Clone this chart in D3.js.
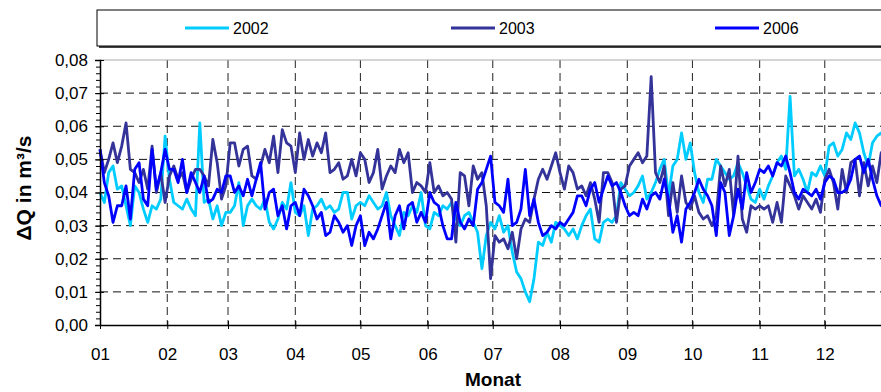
<!DOCTYPE html>
<html>
<head>
<meta charset="utf-8">
<script src="https://cdn.jsdelivr.net/npm/d3@7"></script>
<style>
  body { margin: 0; background: #fff; }
  svg { display: block; font-family: "Liberation Sans", Arial, sans-serif; }
</style>
</head>
<body>
<svg id="chart" width="881" height="392"></svg>
<script>
// values, one every 2 days (day of year 0, 2, 4 ... 364)
var step = 2;
var monthStart = [0, 31, 59, 90, 120, 151, 181, 212, 243, 273, 304, 334];
var monthLabels = ['01', '02', '03', '04', '05', '06', '07', '08', '09', '10', '11', '12'];
var yTicks = [0, 0.01, 0.02, 0.03, 0.04, 0.05, 0.06, 0.07, 0.08];
var seriesNames = ['2002', '2003', '2006'];
var seriesColors = ['#00ccff', '#333399', '#0000ff'];

var q2002 = [
  0.040,0.037,0.046,0.048,0.041,0.042,0.036,0.030,0.042,0.040,0.035,0.031,0.036,0.035,0.038,0.057,
  0.044,0.037,0.036,0.035,0.038,0.035,0.033,0.061,0.037,0.038,0.032,0.036,0.030,0.034,
  0.034,0.036,0.043,0.030,0.036,0.038,0.036,0.035,0.038,0.031,0.029,0.032,0.037,0.035,0.043,
  0.034,0.033,0.036,0.027,0.035,0.036,0.038,0.035,0.036,0.034,0.035,0.040,0.040,0.032,0.036,
  0.037,0.036,0.039,0.037,0.035,0.036,0.040,0.033,0.030,0.027,0.034,0.033,0.036,0.034,0.040,
  0.030,0.029,0.034,0.033,0.036,0.035,0.037,0.032,0.030,0.033,0.034,0.031,0.028,0.017,0.027,0.031,
  0.029,0.033,0.028,0.030,0.022,0.016,0.014,0.010,0.007,0.014,0.025,0.024,0.028,0.025,0.031,
  0.030,0.029,0.027,0.029,0.026,0.030,0.033,0.035,0.026,0.025,0.031,0.032,0.031,0.033,0.043,0.041,
  0.039,0.040,0.042,0.045,0.038,0.040,0.043,0.047,0.050,0.039,0.048,0.050,0.058,0.050,0.055,
  0.046,0.040,0.037,0.044,0.044,0.050,0.048,0.046,0.044,0.045,0.049,0.046,0.042,0.038,0.037,
  0.041,0.038,0.042,0.045,0.049,0.051,0.047,0.069,0.045,0.047,0.044,0.040,0.046,0.045,0.048,
  0.045,0.054,0.055,0.051,0.053,0.058,0.056,0.061,0.058,0.052,0.048,0.055,0.057,0.058,0.055,0.056
];
var q2003 = [
  0.053,0.046,0.050,0.055,0.049,0.054,0.061,0.047,0.046,0.043,0.047,0.041,0.054,0.040,0.046,0.037,
  0.045,0.048,0.044,0.046,0.040,0.044,0.047,0.047,0.045,0.042,0.056,0.049,0.038,0.042,
  0.055,0.055,0.048,0.053,0.054,0.045,0.044,0.048,0.053,0.049,0.057,0.046,0.059,0.055,0.054,
  0.046,0.058,0.050,0.056,0.051,0.055,0.052,0.058,0.046,0.047,0.049,0.044,0.045,0.050,0.045,
  0.052,0.050,0.043,0.046,0.053,0.041,0.045,0.048,0.046,0.053,0.049,0.052,0.040,0.043,0.042,
  0.040,0.049,0.040,0.042,0.039,0.040,0.038,0.025,0.046,0.045,0.036,0.048,0.044,0.046,0.036,0.014,
  0.027,0.025,0.026,0.023,0.028,0.020,0.029,0.032,0.031,0.038,0.044,0.047,0.044,0.048,0.052,
  0.046,0.041,0.048,0.046,0.041,0.042,0.039,0.043,0.038,0.031,0.046,0.046,0.043,0.031,0.041,0.042,
  0.048,0.050,0.052,0.049,0.051,0.075,0.046,0.043,0.048,0.033,0.043,0.034,0.045,0.037,0.035,
  0.039,0.034,0.032,0.033,0.030,0.033,0.048,0.042,0.047,0.033,0.051,0.032,0.028,0.036,0.035,
  0.036,0.035,0.036,0.031,0.037,0.031,0.045,0.042,0.039,0.035,0.039,0.037,0.035,0.038,0.034,
  0.044,0.047,0.043,0.035,0.047,0.040,0.049,0.050,0.039,0.049,0.042,0.048,0.043,0.052,0.050,0.048
];
var q2006 = [
  0.053,0.043,0.039,0.031,0.036,0.036,0.042,0.032,0.047,0.049,0.038,0.036,0.053,0.041,0.046,0.053,
  0.047,0.047,0.043,0.050,0.040,0.046,0.043,0.040,0.045,0.037,0.038,0.041,0.040,0.045,
  0.045,0.040,0.042,0.039,0.044,0.039,0.044,0.049,0.035,0.040,0.041,0.033,0.036,0.029,0.036,
  0.037,0.033,0.041,0.039,0.036,0.032,0.034,0.027,0.028,0.033,0.031,0.028,0.030,0.024,0.030,
  0.033,0.024,0.028,0.026,0.029,0.033,0.037,0.026,0.033,0.036,0.029,0.036,0.037,0.031,0.034,
  0.031,0.040,0.037,0.036,0.030,0.026,0.026,0.037,0.031,0.029,0.032,0.030,0.041,0.043,0.047,0.051,
  0.037,0.036,0.034,0.044,0.030,0.031,0.035,0.047,0.033,0.038,0.031,0.027,0.028,0.030,0.029,
  0.031,0.030,0.032,0.034,0.039,0.039,0.036,0.041,0.043,0.037,0.041,0.045,0.042,0.043,0.040,0.036,
  0.033,0.034,0.033,0.038,0.035,0.039,0.040,0.038,0.044,0.038,0.028,0.033,0.025,0.035,0.037,
  0.040,0.044,0.041,0.039,0.036,0.027,0.043,0.040,0.027,0.033,0.041,0.035,0.046,0.040,0.043,
  0.047,0.046,0.048,0.045,0.049,0.048,0.051,0.046,0.040,0.038,0.041,0.040,0.039,0.041,0.038,
  0.043,0.045,0.044,0.040,0.040,0.041,0.044,0.050,0.051,0.046,0.050,0.044,0.039,0.036,0.035,0.037
];
var seriesValues = [q2002, q2003, q2006];

var svg = d3.select('#chart');
var margin = {top: 60, left: 100, bottom: 325};
var dayWidth = 2.17;

var x = d3.scaleLinear().domain([0, 365]).range([margin.left, margin.left + 365 * dayWidth]);
var y = d3.scaleLinear().domain([0, 0.08]).range([margin.bottom, margin.top]);

svg.append('rect').attr('width', 881).attr('height', 392).attr('fill', '#fff');

// grid
var grid = svg.append('g').classed('grid', true);
grid.selectAll('.hgrid')
  .data(yTicks.slice(1, -1))
  .enter().append('line')
    .attr('x1', x(0)).attr('x2', x(365))
    .attr('y1', function(d) { return y(d); })
    .attr('y2', function(d) { return y(d); })
    .attr('stroke', '#111').attr('stroke-dasharray', '8,5');
grid.selectAll('.vgrid')
  .data(monthStart.slice(1))
  .enter().append('line')
    .attr('x1', function(d) { return x(d); })
    .attr('x2', function(d) { return x(d); })
    .attr('y1', y(0.08)).attr('y2', y(0))
    .attr('stroke', '#222').attr('stroke-dasharray', '8,5');
svg.append('line')
  .attr('x1', x(0)).attr('x2', x(365))
  .attr('y1', y(0.08)).attr('y2', y(0.08))
  .attr('stroke', '#aaa');

// series
var line = d3.line()
  .x(function(d, i) { return x(i * step); })
  .y(function(d) { return y(d); });

svg.append('g').classed('data-series', true)
  .selectAll('path')
  .data(seriesValues)
  .enter().append('path')
    .attr('d', line)
    .attr('fill', 'none')
    .attr('stroke', function(d, i) { return seriesColors[i]; })
    .attr('stroke-width', 2.8)
    .attr('stroke-linejoin', 'round');

// axes
var fmt = function(d) { return d3.format('.2f')(d).replace('.', ','); };

svg.append('g')
  .attr('transform', 'translate(' + margin.left + ',0)')
  .call(d3.axisLeft(y).tickValues(d3.range(0, 0.0801, 0.002)).tickSize(4).tickFormat(''))
  .call(function(g) { g.select('.domain').remove(); });

var yAxis = svg.append('g')
  .attr('transform', 'translate(' + margin.left + ',0)')
  .call(d3.axisLeft(y).tickValues(yTicks).tickSize(5).tickPadding(7).tickFormat(fmt));
yAxis.selectAll('.tick').append('line').attr('x2', 4).attr('stroke', '#000');
yAxis.select('.domain').attr('stroke-width', 1.5);

var xAxis = svg.append('g')
  .attr('transform', 'translate(0,' + margin.bottom + ')')
  .call(d3.axisBottom(x).tickValues(monthStart).tickSize(4).tickSizeOuter(0).tickPadding(19)
    .tickFormat(function(d, i) { return monthLabels[i]; }));
xAxis.selectAll('.tick').append('line').attr('y2', -4).attr('stroke', '#000');
xAxis.select('.domain').attr('stroke-width', 1.5);

svg.selectAll('.tick text').attr('font-size', 17).attr('fill', '#000')
  .attr('font-family', '"Liberation Sans", Arial, sans-serif');

// titles
svg.append('text')
  .attr('x', 493).attr('y', 386)
  .attr('text-anchor', 'middle')
  .attr('font-weight', 'bold').attr('font-size', 19)
  .text('Monat');

svg.append('text')
  .attr('transform', 'translate(31,188) rotate(-90)')
  .attr('text-anchor', 'middle')
  .attr('font-weight', 'bold').attr('font-size', 21)
  .text('ΔQ  in m³/s');

// legend
var legend = svg.append('g').classed('legend', true);
legend.append('rect')
  .attr('x', 99).attr('y', 12).attr('width', 800).attr('height', 36)
  .attr('fill', '#444');
legend.append('rect')
  .attr('x', 97).attr('y', 10).attr('width', 800).attr('height', 36)
  .attr('fill', '#fff').attr('stroke', '#000');

var legendX = [185, 451, 715];
var item = legend.selectAll('.item')
  .data(seriesNames)
  .enter().append('g')
    .attr('transform', function(d, i) { return 'translate(' + legendX[i] + ',28)'; });
item.append('line')
  .attr('x1', 0).attr('x2', 44)
  .attr('stroke', function(d, i) { return seriesColors[i]; })
  .attr('stroke-width', 3);
item.append('text')
  .attr('x', 48).attr('dy', '0.35em')
  .attr('font-size', 16)
  .text(function(d) { return d; });
</script>
</body>
</html>
